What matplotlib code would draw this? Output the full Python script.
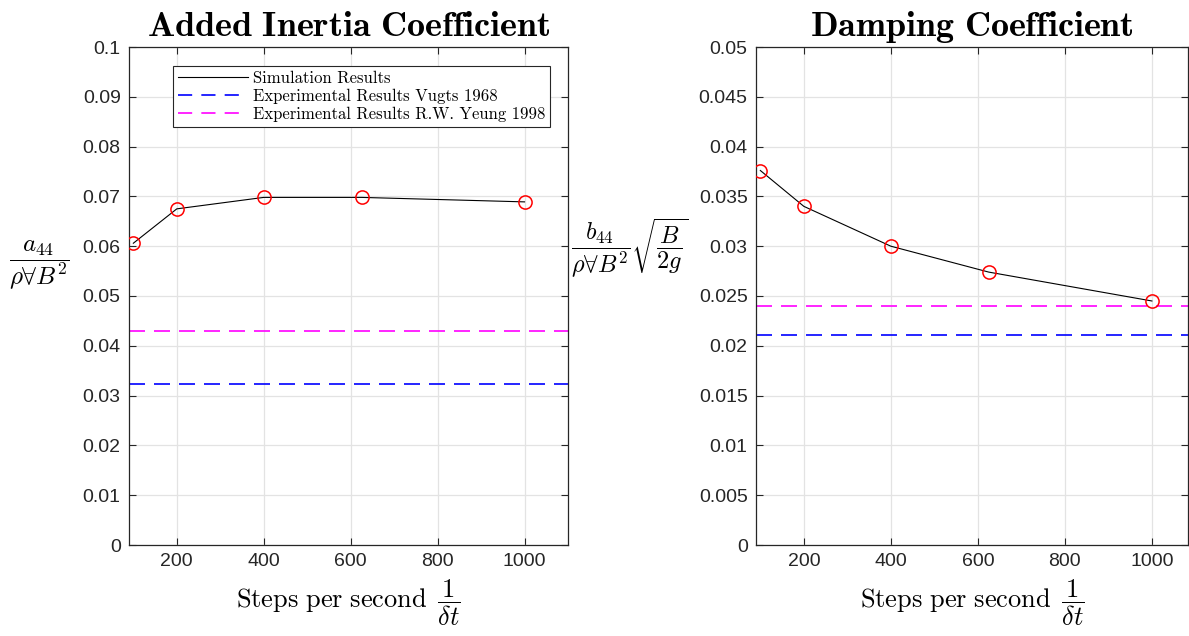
import numpy as np
import matplotlib
matplotlib.use('Agg')
from matplotlib import pyplot as plt

# data
steps = [100, 200, 400, 625, 1000]
a44 = [0.0606, 0.0675, 0.0698, 0.0698, 0.0689]
b44 = [0.0376, 0.0340, 0.0300, 0.0274, 0.0245]
a44_vugts = 0.0323
a44_yeung = 0.0430
b44_vugts = 0.0211
b44_yeung = 0.0240

xticks = [200, 400, 600, 800, 1000]
a_yticks = np.round(np.arange(0, 0.1001, 0.01), 3)
b_yticks = np.round(np.arange(0, 0.0501, 0.005), 3)
a_yticklabels = ['0', '0.01', '0.02', '0.03', '0.04', '0.05', '0.06', '0.07', '0.08', '0.09', '0.1']
b_yticklabels = ['0', '0.005', '0.01', '0.015', '0.02', '0.025', '0.03', '0.035', '0.04', '0.045', '0.05']

plt.rcParams['mathtext.fontset'] = 'cm'
plt.rcParams['font.family'] = ['Liberation Sans', 'DejaVu Sans']
plt.rcParams['axes.unicode_minus'] = False

W, H = 1189, 636
fig = plt.figure(figsize=(W / 100, H / 100), dpi=100)

ax1 = fig.add_axes([129 / W, (H - 545) / H, 439 / W, 498 / H])
ax2 = fig.add_axes([756 / W, (H - 545) / H, 432 / W, 498 / H])

axcol = '#262626'
gridcol = '#e3e3e3'


def style(ax, yt, ytl, ylim, xlim):
	ax.set_xlim(xlim)
	ax.set_ylim(ylim)
	ax.set_xticks(xticks)
	ax.set_xticklabels([str(t) for t in xticks])
	ax.set_yticks(yt)
	ax.set_yticklabels(ytl)
	ax.grid(True, color=gridcol, linewidth=0.9)
	ax.set_axisbelow(True)
	ax.tick_params(direction='in', top=True, right=True, length=5, width=0.8,
				   colors=axcol, labelsize=14, pad=6)
	for s in ax.spines.values():
		s.set_color(axcol)
		s.set_linewidth(0.9)


style(ax1, a_yticks, a_yticklabels, (0, 0.1), (90, 1100))
style(ax2, b_yticks, b_yticklabels, (0, 0.05), (90, 1083))

dash = (9.6, 5.4)
dlw = 1.2

ax1.plot(steps, a44, '-k', linewidth=0.8, label='Simulation Results', zorder=3)
ax1.axhline(a44_vugts, color='#0000ff', linestyle='--', dashes=dash, linewidth=dlw,
			label='Experimental Results Vugts 1968')
ax1.axhline(a44_yeung, color='#ff00ff', linestyle='--', dashes=dash, linewidth=dlw,
			label='Experimental Results R.W. Yeung 1998')
ax1.plot(steps, a44, 'o', markersize=9.5, markerfacecolor='none', markeredgecolor='r',
		 markeredgewidth=1.1, zorder=4)

ax2.plot(steps, b44, '-k', linewidth=0.8, zorder=3)
ax2.axhline(b44_vugts, color='#0000ff', linestyle='--', dashes=dash, linewidth=dlw)
ax2.axhline(b44_yeung, color='#ff00ff', linestyle='--', dashes=dash, linewidth=dlw)
ax2.plot(steps, b44, 'o', markersize=9.5, markerfacecolor='none', markeredgecolor='r',
		 markeredgewidth=1.1, zorder=4)

leg = ax1.legend(loc='upper left', bbox_to_anchor=(0.1, 0.962), borderaxespad=0,
				 prop={'family': 'cmr10', 'size': 12}, fancybox=False, framealpha=1,
				 edgecolor='#262626', handlelength=4.2, handletextpad=0.3,
				 labelspacing=0.15, borderpad=0.3)
leg.get_frame().set_linewidth(0.8)
for h in leg.get_lines()[1:]:
	h.set_dashes((8.5, 5.5))

ax1.set_title(r'$\mathbf{Added\ Inertia\ Coefficient}$', fontsize=26, pad=8)
ax2.set_title(r'$\mathbf{Damping\ Coefficient}$', fontsize=26, pad=8)

xl = r'$\mathrm{Steps\ per\ second}\ \,\dfrac{1}{\delta t}$'
ax1.set_xlabel(xl, fontsize=19, labelpad=5)
ax2.set_xlabel(xl, fontsize=19, labelpad=5)

ax1.set_ylabel(r'$\dfrac{a_{44}}{\rho\forall B^2}$', fontsize=18, rotation=0,
			   ha='center', va='center')
ax1.yaxis.set_label_coords(-0.203, 0.562)
ax2.set_ylabel(r'$\dfrac{b_{44}}{\rho\forall B^2}\sqrt{\dfrac{B}{2g}}$', fontsize=17.5,
			   rotation=0, ha='center', va='center')
ax2.yaxis.set_label_coords(-0.292, 0.596)

fig.savefig('out.png', dpi=100)
